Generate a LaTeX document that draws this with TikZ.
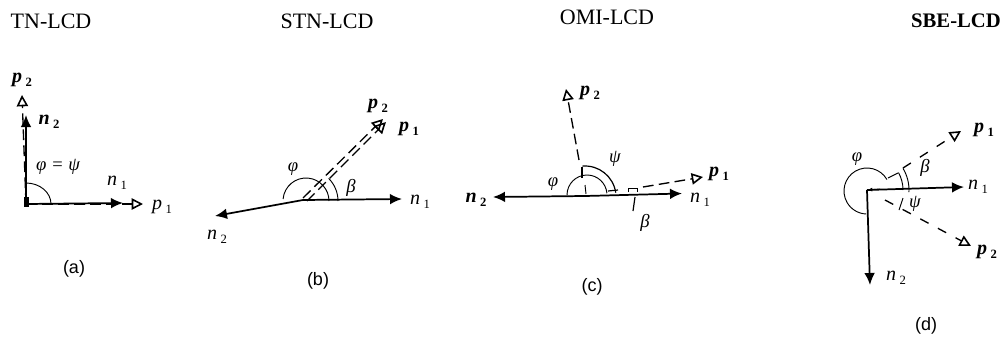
\documentclass[tikz,border=0pt]{standalone}
\usepackage{fontspec}
\setmainfont{Liberation Serif}
\setsansfont{Liberation Sans}
\usetikzlibrary{arrows.meta}
\newcommand{\vsub}[2]{\textit{\textbf{#1}}\,\raisebox{-3pt}{\fontsize{9.5}{10}\selectfont\textbf{#2}}}
\newcommand{\lsub}[2]{\textit{#1}\,\raisebox{-3pt}{\fontsize{9.5}{10}\selectfont #2}}
\tikzset{
  x=0.75pt,y=-0.75pt,
  solidvec/.style={line width=1.3pt,-{Latex[length=9pt,width=8pt]}},
  openvec/.style={line width=1pt,dash pattern=on 8pt off 4pt,-{Triangle[open,length=8.5pt,width=8.5pt,line width=1.2pt]}},
  sparsevec/.style={openvec,dash pattern=on 7pt off 8pt},
  anglearc/.style={line width=0.7pt},
  title/.style={font=\fontsize{16.5}{18}\selectfont,inner sep=0pt},
  caption/.style={font=\sffamily\fontsize{13.5}{15}\selectfont,inner sep=0pt},
  vlabel/.style={font=\fontsize{15}{17}\selectfont,inner sep=0pt},
  glabel/.style={font=\itshape\fontsize{14}{16}\selectfont,inner sep=0pt}
}
\begin{document}
\begin{tikzpicture}
\useasboundingbox (0,0) rectangle (1003,336);
\fill[white] (0,0) rectangle (1003,336);
% titles
\node[title] (ta) at (51,21) {TN-LCD};
\node[title] (tb) at (327,21) {STN-LCD};
\node[title] (tc) at (607,17) {OMI-LCD};
\node[title,font=\bfseries\fontsize{15.5}{18}\selectfont] (td) at (956,21) {SBE-LCD};
% (a)
\coordinate (oa) at (26,204);
\coordinate (an1) at (123,203);
\coordinate (ap1) at (143,204);
\coordinate (an2) at (26,115);
\coordinate (ap2) at (22,95);
\draw[openvec] (oa) -- (ap1);
\draw[openvec] (oa) -- (ap2);
\draw[solidvec] (oa) -- (an1);
\draw[solidvec] (oa) -- (an2);
\fill (24,197) rectangle (29,207);
\draw[anglearc] (oa) ++(-90:21) arc[start angle=-90,end angle=0,x radius=25,y radius=21];
\node[vlabel] (lap2) at (22,80) {\vsub{p}{2}};
\node[vlabel] (lan2) at (49,122) {\vsub{n}{2}};
\node[vlabel] (lan1) at (117,183) {\lsub{n}{1}};
\node[vlabel] (lap1) at (162,207) {\lsub{p}{1}};
\node[glabel] (lphi) at (58,167) {φ = ψ};
\node[caption] (ca) at (74,269) {(a)};
% (b)
\coordinate (ob) at (303,200);
\coordinate (bc) at (306,201);
\coordinate (bn1) at (402,199);
\coordinate (bn2) at (215,216);
\coordinate (bo1) at (307,201);
\coordinate (bo2) at (303,198);
\coordinate (bp1) at (386,122);
\coordinate (bp2) at (383,119);
\draw[solidvec] (ob) -- (bn1);
\draw[solidvec] (ob) -- (bn2);
\draw[openvec] (bo1) -- (bp1);
\draw[openvec] (bo2) -- (bp2);
\draw[anglearc] (bc) ++(-175:23) arc[start angle=-175,end angle=0,radius=23];
\draw[anglearc] (bc) ++(0:32) arc[start angle=0,end angle=-45,radius=32];
\node[vlabel] (lbp2) at (378,106) {\vsub{p}{2}};
\node[vlabel] (lbp1) at (409,129) {\vsub{p}{1}};
\node[vlabel] (lbn1) at (420,202) {\lsub{n}{1}};
\node[vlabel] (lbn2) at (217,237) {\lsub{n}{2}};
\node[glabel] (lbphi) at (293,169) {φ};
\node[glabel] (lbbeta) at (351,188) {β};
\node[caption] (cb) at (318,281) {(b)};
% (c)
\coordinate (oc) at (585,196);
\coordinate (cphi) at (587,195);
\coordinate (cpsi) at (585,197);
\coordinate (cn1) at (682,193.5);
\coordinate (cn2) at (493,197);
\coordinate (cp1) at (703,177);
\coordinate (cp2) at (566,89);
\coordinate (cq1) at (643,187);
\coordinate (cq2) at (579,160);
\draw[solidvec] (oc) -- (cn1);
\draw[solidvec] (oc) -- (cn2);
\draw[openvec] (cq2) -- (cp2);
\draw[openvec] (cq1) -- (cp1);
\draw[anglearc] (cphi) ++(-180:20) arc[start angle=-180,end angle=-5,radius=20];
\draw[anglearc,line width=0.9pt] (cpsi) ++(-95:31) arc[start angle=-95,end angle=-8,radius=31];
\draw[anglearc,line width=0.9pt] (582,167) -- (582,178);
\draw[anglearc,line width=0.9pt] (608,191) -- (618,190);
\draw[anglearc] (585,185) -- (586,194);
\draw[anglearc] (628,192) -- (628,188) -- (637,188) -- (637,192);
\draw[anglearc,line width=0.9pt] (635,197) -- (633,211);
\node[vlabel] (lcp2) at (590,93) {\vsub{p}{2}};
\node[vlabel] (lcp1) at (719,174) {\vsub{p}{1}};
\node[vlabel] (lcn1) at (700,200) {\lsub{n}{1}};
\node[vlabel] (lcn2) at (476,200) {\vsub{n}{2}};
\node[glabel] (lcphi) at (553,184) {φ};
\node[glabel] (lcpsi) at (615,159) {ψ};
\node[glabel] (lcbeta) at (645,223) {β};
\node[caption] (cc) at (592,287) {(c)};
% (d)
\coordinate (od) at (867,190);
\coordinate (dc) at (867,191);
\coordinate (dn1) at (964,187);
\coordinate (dn2) at (870,285);
\coordinate (dp1) at (961,131);
\coordinate (dp2) at (971,246);
\coordinate (dq1) at (903,168);
\coordinate (dq2) at (885,200);
\coordinate (dr1) at (880,189);
\draw[solidvec] (od) -- (dn1);
\draw[solidvec] (od) -- (dn2);
\draw[sparsevec] (dq1) -- (dp1);
\draw[sparsevec] (dq2) -- (dp2);
\draw[anglearc,-{Latex[length=4pt,width=3pt]}] (dr1) -- (od);
\draw[anglearc] (dc) ++(-30:23) arc[start angle=-30,end angle=-268,radius=23];
\draw[anglearc] (od) ++(0:36) arc[start angle=0,end angle=-29,radius=36];
\draw[anglearc] (od) ++(3:42) arc[start angle=3,end angle=-31,radius=42];
\draw[anglearc] (888,178) -- (898,173);
\draw[anglearc] (903,198) -- (899,210);
\node[vlabel] (ldp1) at (984,130) {\vsub{p}{1}};
\node[vlabel] (ldn1) at (978,187) {\lsub{n}{1}};
\node[vlabel] (ldp2) at (987,252) {\vsub{p}{2}};
\node[vlabel] (ldn2) at (896,278) {\lsub{n}{2}};
\node[glabel] (ldphi) at (857,159) {φ};
\node[glabel] (ldbeta) at (925,168) {β};
\node[glabel] (ldpsi) at (915,204) {ψ};
\node[caption] (cd) at (926,326) {(d)};
\end{tikzpicture}
\end{document}
